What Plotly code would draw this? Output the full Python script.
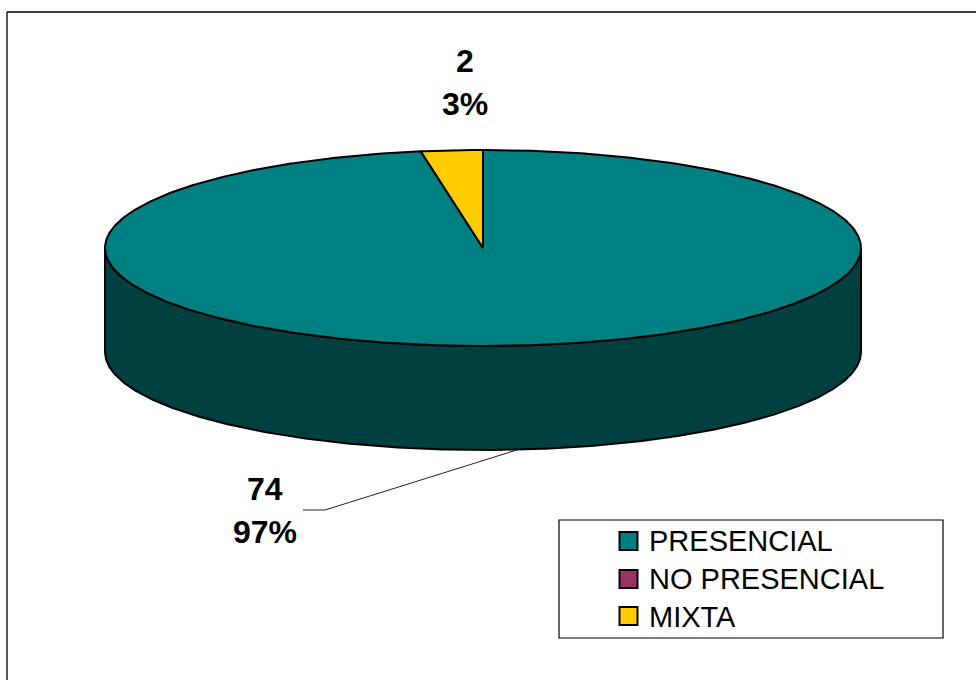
import numpy as np
import plotly.graph_objects as go

# --- data ---
categories = ["PRESENCIAL", "NO PRESENCIAL", "MIXTA"]
values = [74, 0, 2]
colors = ["#008080", "#993366", "#FFCC00"]
wall_color = "#004040"
label_counts = ["74", "2"]
label_percents = ["97%", "3%"]

# --- layout geometry of the pie (pixels) ---
W, H = 976, 680
CX, CY, RX, RY, DEPTH = 483, 248, 378, 98, 104


def ellipse(theta, dy=0.0):
    """theta is clockwise from 12 o'clock, in degrees."""
    t = np.radians(theta)
    return CX + RX * np.sin(t), CY + dy - RY * np.cos(t)


total = sum(values)
spans = [v / total * 360 for v in values]

fig = go.Figure()

# side wall: the front half of the disc, extruded downward
front = np.linspace(270, 90, 361)
xt, yt = ellipse(front)
xb, yb = ellipse(front[::-1], DEPTH)
fig.add_trace(go.Scatter(
    x=np.r_[xt, xb, xt[0]], y=np.r_[yt, yb, yt[0]],
    mode="lines", fill="toself", fillcolor=wall_color,
    line=dict(color="#000000", width=2), hoverinfo="skip", showlegend=False))

# top face: the slices run clockwise from 12 o'clock
start = 0.0
for name, span, color in zip(categories, spans, colors):
    if span > 0:
        th = np.linspace(start, start + span, max(int(span * 2), 2))
        ex, ey = ellipse(th)
        fig.add_trace(go.Scatter(
            x=np.r_[CX, ex, CX], y=np.r_[CY, ey, CY],
            mode="lines", fill="toself", fillcolor=color,
            line=dict(color="#000000", width=2), name=name,
            hoverinfo="name", showlegend=False))
    start += span

# legend drawn to the reference's exact placement
swatch_x = [628.5] * len(categories)
swatch_y = [541, 579, 616]
text_x = [649] * len(categories)
text_y = [540.5, 578.5, 616.5]
fig.add_trace(go.Scatter(
    x=swatch_x, y=swatch_y, mode="markers",
    marker=dict(symbol="square", size=18, color=colors,
                line=dict(color="#000000", width=2)),
    hoverinfo="skip", showlegend=False))

# data labels
label_x = [264.5, 465]
count_y = [489, 61]
pct_y = [532, 104]
bold = dict(family="Liberation Sans", size=32, color="#000000")
regular = dict(family="Liberation Sans", size=29, color="#000000")
annotations = []
for lx, cy, py, c, p in zip(label_x, count_y, pct_y, label_counts, label_percents):
    annotations.append(dict(x=lx, y=cy, text=f"<b>{c}</b>", showarrow=False,
                            font=bold, xanchor="center", yanchor="middle"))
    annotations.append(dict(x=lx, y=py, text=f"<b>{p}</b>", showarrow=False,
                            font=bold, xanchor="center", yanchor="middle"))
for tx, ty, c in zip(text_x, text_y, categories):
    annotations.append(dict(x=tx, y=ty, text=c, showarrow=False, font=regular,
                            xanchor="left", yanchor="middle", borderpad=0, borderwidth=0))

shapes = [
    # chart frame
    dict(type="line", x0=7, y0=12, x1=W, y1=12, line=dict(color="#000000", width=1.3)),
    dict(type="line", x0=7, y0=12, x1=7, y1=H, line=dict(color="#000000", width=1.3)),
    # legend box
    dict(type="rect", x0=559, y0=520, x1=943, y1=638, line=dict(color="#000000", width=1.2)),
    # leader line
    dict(type="path", path="M 303 510 L 325 510 L 520 449",
         line=dict(color="#222222", width=1)),
]

fig.update_layout(
    width=W, height=H, autosize=False,
    margin=dict(l=0, r=0, t=0, b=0),
    paper_bgcolor="#FFFFFF", plot_bgcolor="#FFFFFF",
    xaxis=dict(range=[0, W], visible=False, fixedrange=True),
    yaxis=dict(range=[H, 0], visible=False, fixedrange=True),
    shapes=shapes, annotations=annotations, showlegend=False,
)

fig.write_html("out.html", config={"displayModeBar": False},
               post_script="document.body.style.margin='0';document.body.style.overflow='hidden';")
